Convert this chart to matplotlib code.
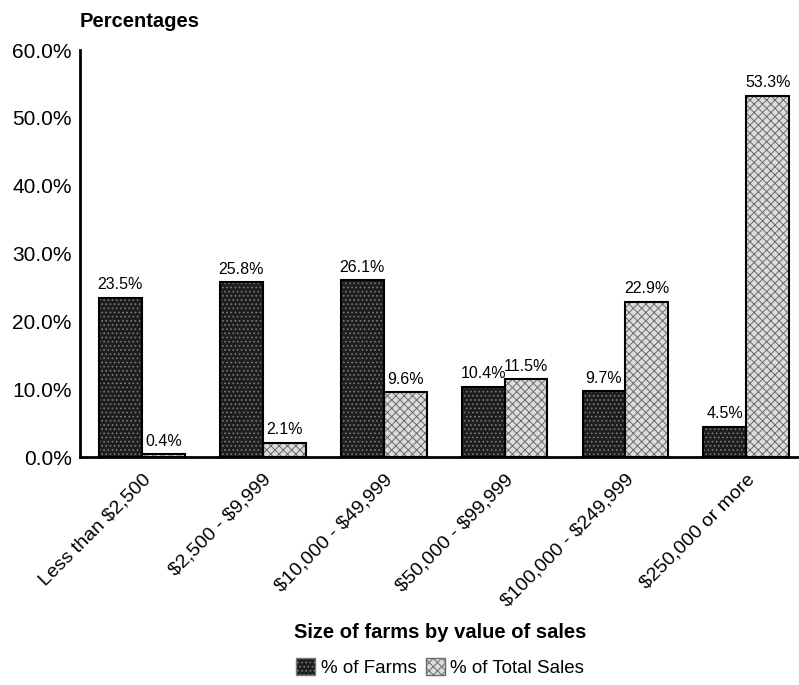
import matplotlib
matplotlib.use("Agg")
import matplotlib.pyplot as plt
from matplotlib.patches import Patch
import numpy as np

plt.rcParams['font.family'] = ['Liberation Sans', 'DejaVu Sans']
plt.rcParams['text.parse_math'] = False
plt.rcParams['hatch.linewidth'] = 0.7

categories = ["Less than $2,500", "$2,500 - $9,999", "$10,000 - $49,999",
              "$50,000 - $99,999", "$100,000 - $249,999", "$250,000 or more"]
pct_farms = [23.5, 25.8, 26.1, 10.4, 9.7, 4.5]
pct_sales = [0.4, 2.1, 9.6, 11.5, 22.9, 53.3]
series_names = ["% of Farms", "% of Total Sales"]
y_ticks = [0, 10, 20, 30, 40, 50, 60]

fig = plt.figure(figsize=(7.99, 6.85), dpi=100)
ax = fig.add_axes([0.1001, 0.3328, 0.899, 0.594])

x = np.arange(len(categories))
w = 0.355

dark_face, dark_hatch = '#1e1e1e', '#7a7a7a'
light_face, light_hatch = '#dcdcdc', '#6a6a6a'

# textured fills, then crisp black outlines on top
ax.bar(x - w / 2, pct_farms, w, color=dark_face, edgecolor=dark_hatch,
       hatch='....', linewidth=0)
ax.bar(x + w / 2, pct_sales, w, color=light_face, edgecolor=light_hatch,
       hatch='xxxx', linewidth=0)
ax.bar(x - w / 2, pct_farms, w, fill=False, edgecolor='black', linewidth=1.5)
ax.bar(x + w / 2, pct_sales, w, fill=False, edgecolor='black', linewidth=1.5)

for xi, v in zip(x - w / 2, pct_farms):
    ax.text(xi, v + 0.8, f"{v:.1f}%", ha='center', va='bottom', fontsize=11.5)
for xi, v in zip(x + w / 2, pct_sales):
    ax.text(xi, v + 0.8, f"{v:.1f}%", ha='center', va='bottom', fontsize=11.5)

ax.set_xlim(-0.512, 5.43)
ax.set_ylim(0, 60)
ax.set_yticks(y_ticks)
ax.set_yticklabels([f"{t:.1f}%" for t in y_ticks], fontsize=15)
ax.set_xticks(x)
ax.set_xticklabels(categories, rotation=45, ha='right', rotation_mode='anchor',
                   fontsize=14)
ax.tick_params(axis='both', length=0, pad=6)
ax.tick_params(axis='x', pad=10)

for s in ('top', 'right'):
    ax.spines[s].set_visible(False)
for s in ('left', 'bottom'):
    ax.spines[s].set_linewidth(2)

fig.text(0.100, 0.968, "Percentages", fontsize=14.5, fontweight='bold',
         ha='left', va='center')
fig.text(0.551, 0.076, "Size of farms by value of sales", fontsize=14.5,
         fontweight='bold', ha='center', va='center')

handles = [Patch(facecolor=dark_face, edgecolor=dark_hatch, hatch='....'),
           Patch(facecolor=light_face, edgecolor=light_hatch, hatch='xxxx')]
fig.legend(handles, series_names, loc='center', bbox_to_anchor=(0.551, 0.025),
           ncol=2, frameon=False, handlelength=1.0, handleheight=1.0,
           handletextpad=0.3, columnspacing=0.5, fontsize=13.5)

fig.savefig("out.png", dpi=100, facecolor='white')
